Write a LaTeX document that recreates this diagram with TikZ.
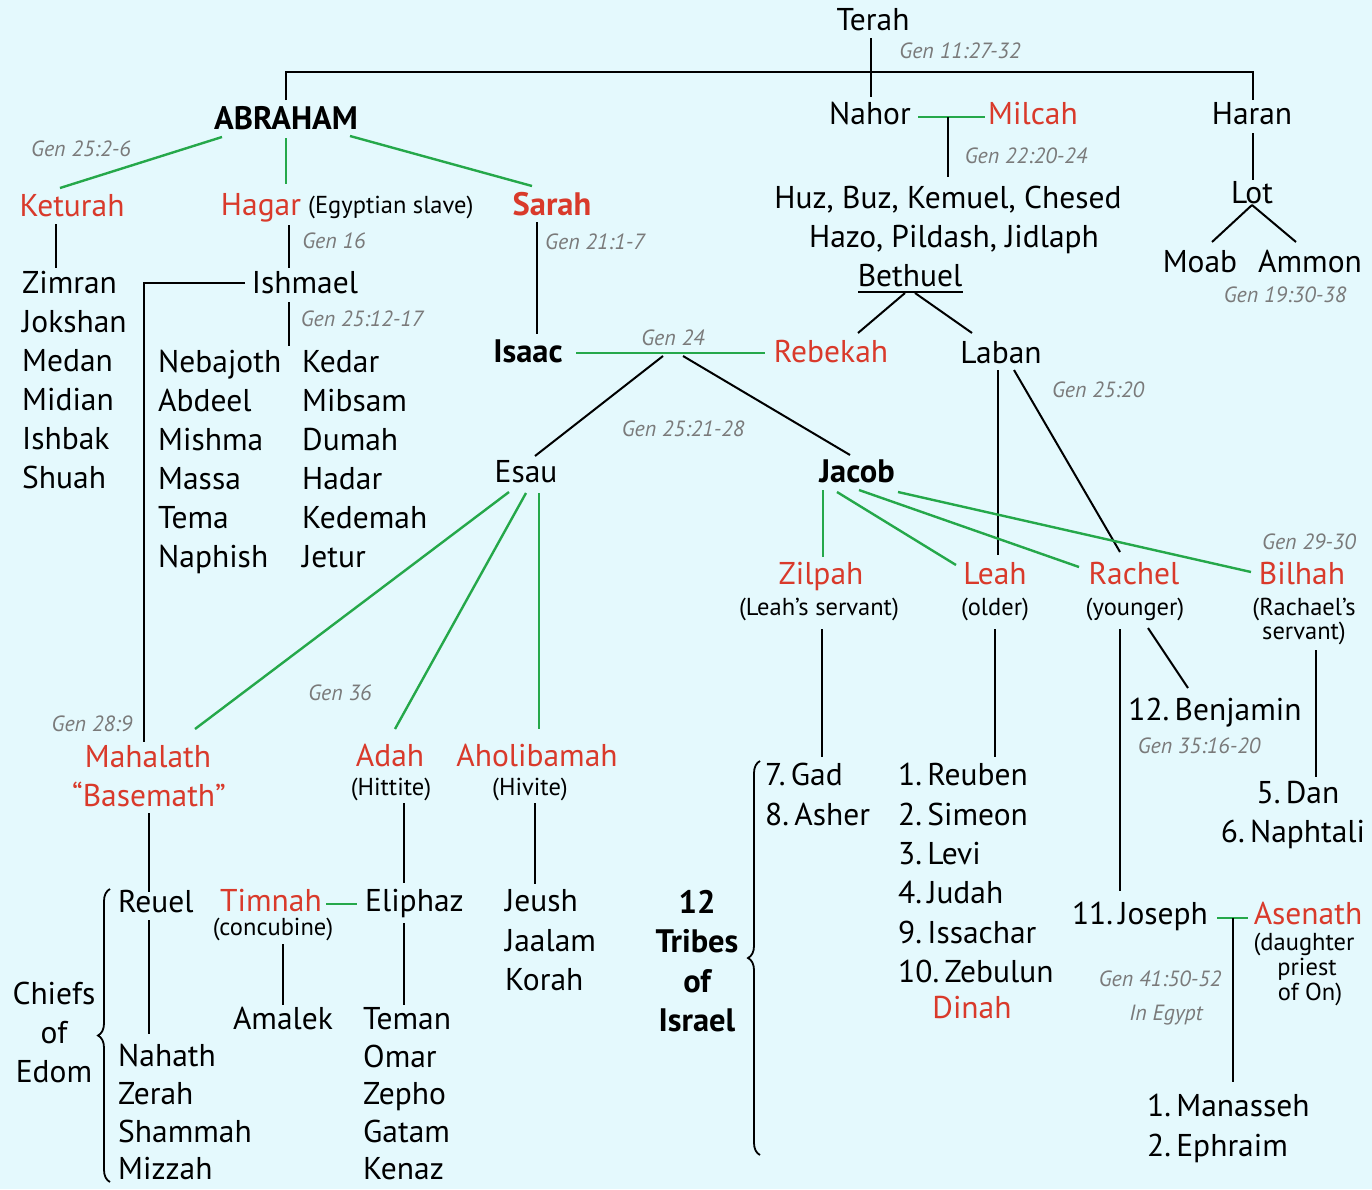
\documentclass[tikz,border=0pt]{standalone}
\usepackage{fontspec}
\setmainfont{PT Sans}
\usetikzlibrary{calc,decorations.pathreplacing}
\definecolor{bgc}{HTML}{E4F9FD}
\definecolor{myred}{HTML}{D93A2B}
\definecolor{mygreen}{HTML}{25A84A}
\definecolor{refgrey}{HTML}{7A7A7A}
\tikzset{
  nm/.style={font=\fontsize{31.5}{36}\selectfont, inner sep=0pt, anchor=base},
  nmw/.style={nm, anchor=base west},
  wf/.style={nm, text=myred},
  bd/.style={nm, font=\fontsize{32.5}{36}\selectfont\bfseries},
  note/.style={font=\fontsize{24.5}{28}\selectfont, inner sep=0pt, anchor=base},
  gref/.style={font=\fontsize{22}{24}\selectfont\itshape, text=refgrey, inner sep=0pt, anchor=base},
  kin/.style={draw=black, line width=2pt},
  wed/.style={draw=mygreen, line width=2.4pt},
  bracestyle/.style={draw=black, line width=1.8pt, decorate, decoration={brace, amplitude=12pt}},
}
\begin{document}
\begin{tikzpicture}[x=1pt,y=-1pt]
\useasboundingbox (0,0) rectangle (1372,1189);
\fill[bgc] (0,0) rectangle (1372,1189);

% ---------- top generations ----------
\node[nm] (terah) at (873,30) {Terah};
\node[gref] (r1) at (960,58) {Gen 11:27-32};
\node[bd] (abraham) at (286,129) {ABRAHAM};
\node[nm] (nahor) at (870,124) {Nahor};
\node[wf] (milcah) at (1033,124) {Milcah};
\node[nm] (haran) at (1252,124) {Haran};
\node[gref] (r2) at (1026,163) {Gen 22:20-24};
\node[nm] (huz) at (948,208) {Huz, Buz, Kemuel, Chesed};
\node[nm] (hazo) at (954,247) {Hazo, Pildash, Jidlaph};
\node[nm] (bethuel) at (910,286) {Bethuel};
\node[nm] (lot) at (1252,203) {Lot};
\node[nm] (moab) at (1200,272) {Moab};
\node[nm] (ammon) at (1310,272) {Ammon};
\node[gref] (r3) at (1285,302) {Gen 19:30-38};

% ---------- Abraham's wives ----------
\node[gref] (r4) at (81,156) {Gen 25:2-6};
\node[wf] (keturah) at (72,216) {Keturah};
\node[wf] (hagar) at (261,215) {Hagar};
\node[note, anchor=base west] (hagarnote) at (308,213) {(Egyptian slave)};
\node[bd, text=myred] (sarah) at (552,215) {Sarah};
\node[gref] (r5) at (334,248) {Gen 16};
\node[gref] (r6) at (595,249) {Gen 21:1-7};
\node[nm] (ishmael) at (305,293) {Ishmael};
\node[gref] (r7) at (362,326) {Gen 25:12-17};

\foreach \t [count=\i] in {Zimran,Jokshan,Medan,Midian,Ishbak,Shuah}
  \node[nmw] (ket\i) at (22,{293+39*(\i-1)}) {\t};
\foreach \t [count=\i] in {Nebajoth,Abdeel,Mishma,Massa,Tema,Naphish}
  \node[nmw] (ish\i) at (158,{372+39*(\i-1)}) {\t};
\foreach \t [count=\i] in {Kedar,Mibsam,Dumah,Hadar,Kedemah,Jetur}
  \node[nmw] (ishb\i) at (302,{372+39*(\i-1)}) {\t};

% ---------- Isaac ----------
\node[bd] (isaac) at (528,362) {Isaac};
\node[gref] (r8) at (673,345) {Gen 24};
\node[wf] (rebekah) at (831,362) {Rebekah};
\node[nm] (laban) at (1001,363) {Laban};
\node[gref] (r9) at (1098,397) {Gen 25:20};
\node[gref] (r10) at (683,436) {Gen 25:21-28};
\node[nm] (esau) at (526,482) {Esau};
\node[bd] (jacob) at (857,482) {Jacob};

% ---------- Jacob's wives ----------
\node[gref] (r11) at (1309,549) {Gen 29-30};
\node[wf] (zilpah) at (821,584) {Zilpah};
\node[note] (zilpahnote) at (819,615) {(Leah’s servant)};
\node[wf] (leah) at (995,584) {Leah};
\node[note] (leahnote) at (995,615) {(older)};
\node[wf] (rachel) at (1134,584) {Rachel};
\node[note] (rachelnote) at (1135,615) {(younger)};
\node[wf] (bilhah) at (1302,584) {Bilhah};
\node[note] (bilhahnote) at (1304,615) {(Rachael’s};
\node[note] (bilhahnoteb) at (1304,639) {servant)};

\node[nm] (benjamin) at (1215,720) {12.\,Benjamin};
\node[gref] (r12) at (1199,753) {Gen 35:16-20};
\node[nm] (dan) at (1298,803) {5.\,Dan};
\node[nm] (naphtali) at (1293,842) {6.\,Naphtali};
\node[nmw] (gad) at (765,785) {7.\,Gad};
\node[nmw] (asher) at (765,825) {8.\,Asher};
\foreach \t/\yy [count=\i] in {1.\,Reuben/785,2.\,Simeon/825,3.\,Levi/864,4.\,Judah/903,9.\,Issachar/943,10.\,Zebulun/982}
  \node[nmw] (leahson\i) at (898,\yy) {\t};
\node[wf] (dinah) at (972,1018) {Dinah};
\foreach \t/\yy [count=\i] in {12/913,Tribes/952,of/992,Israel/1031}
  \node[bd] (tribes\i) at (697,\yy) {\t};

\node[nm] (joseph) at (1140,924) {11.\,Joseph};
\node[wf] (asenath) at (1308,924) {Asenath};
\node[note] (asenathnote) at (1304,950) {(daughter};
\node[note] (asenathnoteb) at (1307,975) {priest};
\node[note] (asenathnotec) at (1310,1000) {of On)};
\node[gref] (r13) at (1160,986) {Gen 41:50-52};
\node[gref] (r14) at (1166,1020) {In Egypt};
\node[nmw] (manasseh) at (1147,1116) {1.\,Manasseh};
\node[nmw] (ephraim) at (1147,1156) {2.\,Ephraim};

% ---------- Esau's wives ----------
\node[gref] (r15) at (340,700) {Gen 36};
\node[gref] (r16) at (92,731) {Gen 28:9};
\node[wf] (mahalath) at (148,767) {Mahalath};
\node[wf] (basemath) at (149,806) {“Basemath”};
\node[wf] (adah) at (390,766) {Adah};
\node[note] (adahnote) at (391,795) {(Hittite)};
\node[wf] (aholibamah) at (537,766) {Aholibamah};
\node[note] (aholinote) at (530,795) {(Hivite)};

\node[nmw] (reuel) at (118,912) {Reuel};
\foreach \t/\yy [count=\i] in {Nahath/1066,Zerah/1104,Shammah/1142,Mizzah/1179}
  \node[nmw] (reuelson\i) at (118,\yy) {\t};
\foreach \t/\yy [count=\i] in {Chiefs/1004,of/1043,Edom/1082}
  \node[nm] (chiefs\i) at (54,\yy) {\t};
\node[wf] (timnah) at (271,911) {Timnah};
\node[note] (timnahnote) at (273,935) {(concubine)};
\node[nmw] (eliphaz) at (365,911) {Eliphaz};
\node[nm] (amalek) at (283,1029) {Amalek};
\foreach \t/\yy [count=\i] in {Teman/1029,Omar/1067,Zepho/1104,Gatam/1142,Kenaz/1179}
  \node[nmw] (eliphson\i) at (363,\yy) {\t};
\foreach \t/\yy [count=\i] in {Jeush/911,Jaalam/951,Korah/990}
  \node[nmw] (aholison\i) at (505,\yy) {\t};

% ================= connectors =================
% Terah
\draw[kin] ($(abraham.base)+(0,-29)$) |- ($(haran.base)+(1,-52)$) -- ($(haran.base)+(1,-24)$);
\draw[kin] ($(terah.base)+(-2,8)$) -- ($(nahor.base)+(1,-27)$);
% Nahor
\draw[wed] ($(nahor.base)+(48,-7)$) -- ($(milcah.base)+(-48,-7)$);
\draw[kin] ($(huz.base)+(0,-91)$) -- ($(huz.base)+(0,-31)$);
\draw[kin] ($(bethuel.base)+(-52,6)$) -- ($(bethuel.base)+(53,6)$);
\draw[kin] ($(bethuel.base)+(-5,7)$) -- ($(rebekah.base)+(27,-29)$);
\draw[kin] ($(bethuel.base)+(5,7)$) -- ($(laban.base)+(-29,-30)$);
% Haran
\draw[kin] ($(haran.base)+(1,9)$) -- ($(lot.base)+(1,-23)$);
\draw[kin] ($(lot.base)+(0,2)$) -- ($(moab.base)+(12,-30)$);
\draw[kin] ($(lot.base)+(0,2)$) -- ($(ammon.base)+(-14,-30)$);
% Abraham
\draw[wed] ($(abraham.base)+(-64,8)$) -- ($(keturah.base)+(-12,-28)$);
\draw[wed] ($(abraham.base)+(0,9)$) -- ($(hagar.base)+(25,-31)$);
\draw[wed] ($(abraham.base)+(64,7)$) -- ($(sarah.base)+(-20,-29)$);
\draw[kin] ($(keturah.base)+(-16,8)$) -- ($(ket1.base west)+(34,-25)$);
\draw[kin] ($(hagar.base)+(28,10)$) -- ($(ishmael.base)+(-16,-25)$);
\draw[kin] ($(ishmael.base)+(-60,-10)$) -| ($(mahalath.base)+(-4,-25)$);
\draw[kin] ($(ishmael.base)+(-16,9)$) -- ($(ishb1.base west)+(-13,-26)$);
\draw[kin] ($(sarah.base)+(-15,7)$) -- ($(isaac.base)+(9,-28)$);
% Isaac
\draw[wed] ($(isaac.base)+(48,-9)$) -- ($(rebekah.base)+(-66,-9)$);
\draw[kin] ($(isaac.base)+(135,-6)$) -- ($(esau.base)+(9,-26)$);
\draw[kin] ($(isaac.base)+(155,-6)$) -- ($(jacob.base)+(-7,-27)$);
% Laban
\draw[kin] ($(laban.base)+(-3,7)$) -- ($(leah.base)+(3,-29)$);
\draw[kin] ($(laban.base)+(13,7)$) -- ($(rachel.base)+(-14,-32)$);
% Jacob
\draw[wed] ($(jacob.base)+(-34,8)$) -- ($(zilpah.base)+(2,-27)$);
\draw[wed] ($(jacob.base)+(-20,10)$) -- ($(leah.base)+(-39,-19)$);
\draw[wed] ($(jacob.base)+(2,8)$) -- ($(rachel.base)+(-55,-17)$);
\draw[wed] ($(jacob.base)+(41,10)$) -- ($(bilhah.base)+(-51,-12)$);
\draw[kin] ($(zilpahnote.base)+(3,14)$) -- ($(gad.base west)+(57,-28)$);
\draw[kin] ($(leahnote.base)+(0,14)$) -- ($(leahson1.base west)+(97,-28)$);
\draw[kin] ($(rachelnote.base)+(-15,14)$) -- ($(joseph.base)+(-20,-33)$);
\draw[kin] ($(rachelnote.base)+(13,13)$) -- ($(benjamin.base)+(-27,-32)$);
\draw[kin] ($(bilhahnoteb.base)+(12,11)$) -- ($(dan.base)+(18,-26)$);
% Joseph
\draw[wed] ($(joseph.base)+(77,-6)$) -- ($(asenath.base)+(-60,-6)$);
\draw[kin] ($(joseph.base)+(93,-6)$) -- ($(manasseh.base west)+(86,-34)$);
% Esau
\draw[wed] ($(esau.base)+(-17,10)$) -- ($(mahalath.base)+(47,-38)$);
\draw[wed] ($(esau.base)+(0,11)$) -- ($(adah.base)+(5,-37)$);
\draw[wed] ($(esau.base)+(13,11)$) -- ($(aholibamah.base)+(2,-37)$);
\draw[kin, line width=1.6pt] ($(basemath.base)+(0,7)$) -- ($(reuel.base west)+(31,-20)$);
\draw[kin, line width=1.6pt] ($(reuel.base west)+(31,8)$) -- ($(reuelson1.base west)+(31,-32)$);
\draw[wed, line width=2pt] ($(timnah.base)+(55,-7)$) -- ($(eliphaz.base west)+(-8,-7)$);
\draw[kin, line width=1.6pt] ($(timnahnote.base)+(10,9)$) -- ($(amalek.base)+(0,-24)$);
\draw[kin, line width=1.6pt] ($(adahnote.base)+(13,8)$) -- ($(eliphaz.base west)+(39,-28)$);
\draw[kin, line width=1.6pt] ($(eliphaz.base west)+(39,12)$) -- ($(eliphson1.base west)+(41,-24)$);
\draw[kin, line width=1.6pt] ($(aholinote.base)+(5,8)$) -- ($(aholison1.base west)+(30,-27)$);

% braces
\draw[bracestyle] ($(reuelson4.base west)+(-8,3)$) -- ($(reuel.base west)+(-8,-23)$);
\draw[bracestyle] ($(gad.base west)+(-5,370)$) -- ($(gad.base west)+(-5,-24)$);
\end{tikzpicture}
\end{document}
